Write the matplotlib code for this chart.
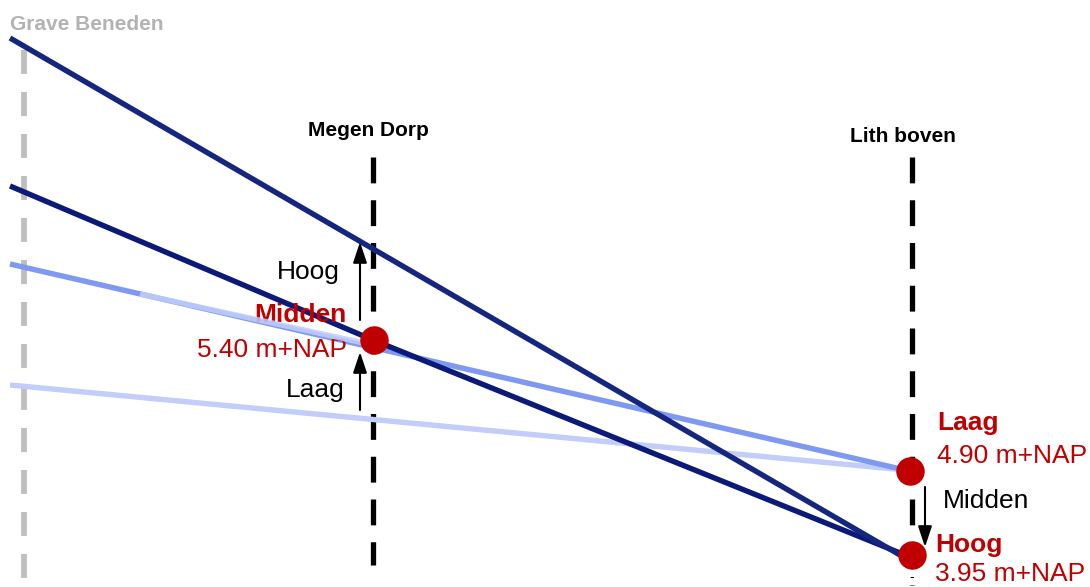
import matplotlib.pyplot as plt

plt.rcParams["font.family"] = ["Liberation Sans", "DejaVu Sans"]

# schematic coordinates (horizontal position along river, vertical = level, screen units)
stations = ["Grave Beneden", "Megen Dorp", "Lith boven"]
station_x = [24, 373, 912]

# water level lines: x points and y points
line_x = [10, 900]
steep_y = [38, 555]                 # steepest profile
mid_x = [10, 373, 905]
mid_y = [186, 340, 555]             # through Midden point
medium_x = [10, 905]
medium_y = [264, 470]
overlay_x = [140, 373]
overlay_y = [294, 345]
flat_x = [10, 905]
flat_y = [385, 470]

# result points
point_x = [374, 910, 912]
point_y = [340, 471, 555]
point_names = ["Midden", "Laag", "Hoog"]
point_levels = ["5.40 m+NAP", "4.90 m+NAP", "3.95 m+NAP"]

red = "#c00000"

fig = plt.figure(figsize=(10.9, 5.87), dpi=100)
ax = fig.add_axes([0, 0, 1, 1])
ax.set_xlim(0, 1090)
ax.set_ylim(587, 0)
ax.axis("off")

# station verticals
ax.plot([station_x[0]] * 2, [50, 600], color="#bfbfbf", lw=4.2,
        dashes=(4.1, 3.1), zorder=1)
ax.plot([station_x[1]] * 2, [157, 565], color="black", lw=3.8,
        dashes=(4.9, 3.2), zorder=1)
ax.plot([station_x[2]] * 2, [157, 585], color="black", lw=3.8,
        dashes=(4.9, 3.2), zorder=1)

ax.text(10, 24, stations[0], color="#b3b3b3", fontsize=15,
        fontweight="bold", ha="left", va="center")
ax.text(368, 130, stations[1], color="black", fontsize=15,
        fontweight="bold", ha="center", va="center")
ax.text(903, 136, stations[2], color="black", fontsize=15,
        fontweight="bold", ha="center", va="center")

# profiles
lw = 3.9
ax.plot(flat_x, flat_y, color="#c2cdfa", lw=lw, solid_capstyle="butt", zorder=2)
ax.plot(medium_x, medium_y, color="#7f99f2", lw=lw, solid_capstyle="butt", zorder=2)
ax.plot(mid_x, mid_y, color="#0b1a78", lw=lw, solid_capstyle="butt", zorder=3)
ax.plot(line_x, steep_y, color="#152680", lw=lw, solid_capstyle="butt", zorder=3)
ax.plot(overlay_x, overlay_y, color="#c2cdfa", lw=lw, alpha=0.85,
        solid_capstyle="butt", zorder=3.5)

# points
ax.scatter(point_x, point_y, s=420, color=red, zorder=5, linewidths=0)

# arrows
arrow = dict(arrowstyle="-|>,head_width=0.3,head_length=0.9", color="black",
             lw=1.5, mutation_scale=14, shrinkA=0, shrinkB=0)
ax.annotate("", xy=(360, 242), xytext=(360, 320), arrowprops=arrow, zorder=4)
ax.annotate("", xy=(360, 352), xytext=(360, 410), arrowprops=arrow, zorder=4)
ax.annotate("", xy=(925, 547), xytext=(925, 487), arrowprops=arrow, zorder=4)

fs = 19
ax.text(308, 272, "Hoog", color="black", fontsize=fs, ha="center", va="center")
ax.text(315, 390, "Laag", color="black", fontsize=fs, ha="center", va="center")
ax.text(943, 501, "Midden", color="black", fontsize=fs, ha="left", va="center")

ax.text(347, 315, point_names[0], color=red, fontsize=fs, fontweight="bold",
        ha="right", va="center")
ax.text(347, 350, point_levels[0], color=red, fontsize=fs, ha="right", va="center")
ax.text(937, 423, point_names[1], color=red, fontsize=fs, fontweight="bold",
        ha="left", va="center")
ax.text(937, 456, point_levels[1], color=red, fontsize=fs, ha="left", va="center")
ax.text(935, 545, point_names[2], color=red, fontsize=fs, fontweight="bold",
        ha="left", va="center")
ax.text(935, 574, point_levels[2], color=red, fontsize=fs, ha="left", va="center")
ax.text(912, 577, "-", color="black", fontsize=10, ha="center", va="center")

fig.savefig("out.png", dpi=100)
